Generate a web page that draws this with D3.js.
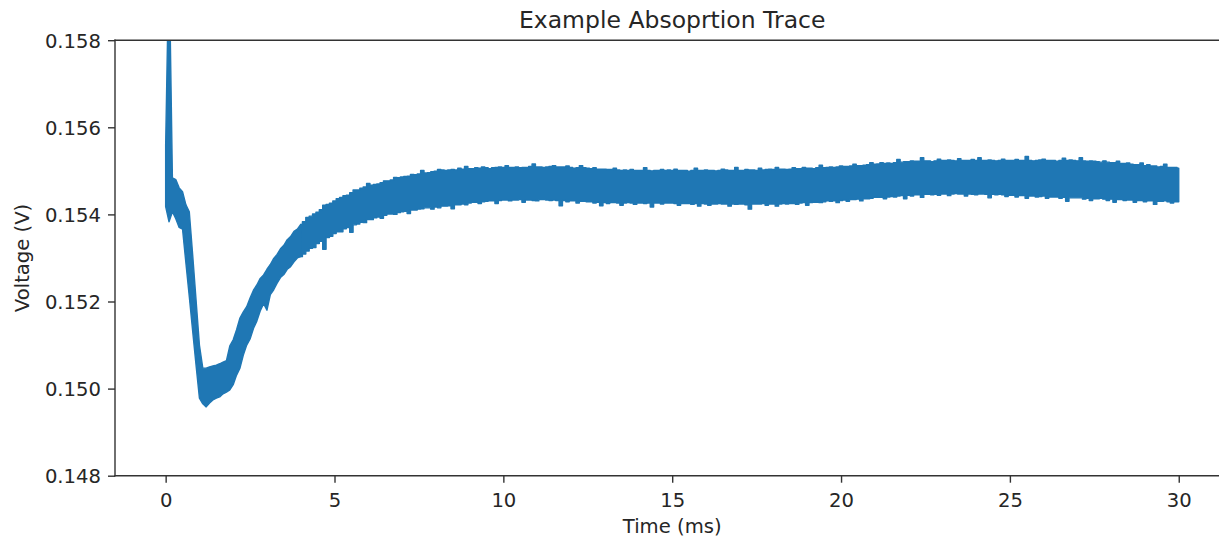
<!DOCTYPE html>
<html>
<head>
<meta charset="utf-8">
<script src="https://cdn.jsdelivr.net/npm/d3@7"></script>
<style>
  body { margin: 0; background: #fff; }
  text { font-family: "DejaVu Sans", sans-serif; fill: #262626; }
</style>
</head>
<body>
<svg id="chart" width="1219" height="539"></svg>
<script>
// Sample times (ms)
const timeMs = [
  0.0,0.1,0.2,0.3,0.4,0.5,0.6,0.7,0.8,0.9,
  1.0,1.1,1.2,1.3,1.4,1.5,1.6,1.7,1.8,1.9,
  2.0,2.1,2.2,2.3,2.4,2.5,2.6,2.7,2.8,2.9,
  3.0,3.1,3.2,3.3,3.4,3.5,3.6,3.7,3.8,3.9,
  4.0,4.1,4.2,4.3,4.4,4.5,4.6,4.7,4.8,4.9,
  5.0,5.1,5.2,5.3,5.4,5.5,5.6,5.7,5.8,5.9,
  6.0,6.1,6.2,6.3,6.4,6.5,6.6,6.7,6.8,6.9,
  7.0,7.1,7.2,7.3,7.4,7.5,7.6,7.7,7.8,7.9,
  8.0,8.1,8.2,8.3,8.4,8.5,8.6,8.7,8.8,8.9,
  9.0,9.1,9.2,9.3,9.4,9.5,9.6,9.7,9.8,9.9,
  10.0,10.1,10.2,10.3,10.4,10.5,10.6,10.7,10.8,10.9,
  11.0,11.1,11.2,11.3,11.4,11.5,11.6,11.7,11.8,11.9,
  12.0,12.1,12.2,12.3,12.4,12.5,12.6,12.7,12.8,12.9,
  13.0,13.1,13.2,13.3,13.4,13.5,13.6,13.7,13.8,13.9,
  14.0,14.1,14.2,14.3,14.4,14.5,14.6,14.7,14.8,14.9,
  15.0,15.1,15.2,15.3,15.4,15.5,15.6,15.7,15.8,15.9,
  16.0,16.1,16.2,16.3,16.4,16.5,16.6,16.7,16.8,16.9,
  17.0,17.1,17.2,17.3,17.4,17.5,17.6,17.7,17.8,17.9,
  18.0,18.1,18.2,18.3,18.4,18.5,18.6,18.7,18.8,18.9,
  19.0,19.1,19.2,19.3,19.4,19.5,19.6,19.7,19.8,19.9,
  20.0,20.1,20.2,20.3,20.4,20.5,20.6,20.7,20.8,20.9,
  21.0,21.1,21.2,21.3,21.4,21.5,21.6,21.7,21.8,21.9,
  22.0,22.1,22.2,22.3,22.4,22.5,22.6,22.7,22.8,22.9,
  23.0,23.1,23.2,23.3,23.4,23.5,23.6,23.7,23.8,23.9,
  24.0,24.1,24.2,24.3,24.4,24.5,24.6,24.7,24.8,24.9,
  25.0,25.1,25.2,25.3,25.4,25.5,25.6,25.7,25.8,25.9,
  26.0,26.1,26.2,26.3,26.4,26.5,26.6,26.7,26.8,26.9,
  27.0,27.1,27.2,27.3,27.4,27.5,27.6,27.7,27.8,27.9,
  28.0,28.1,28.2,28.3,28.4,28.5,28.6,28.7,28.8,28.9,
  29.0,29.1,29.2,29.3,29.4,29.5,29.6,29.7,29.8,29.9,
  30.0
];

// Upper edge of the noisy trace in each sample window (V)
const upperV = [
  0.15560,0.16000,0.15484,0.15480,0.15461,0.15452,0.15422,0.15406,0.15307,0.15204,
  0.15100,0.15047,0.15047,0.15050,0.15052,0.15054,0.15057,0.15061,0.15064,0.15098,
  0.15112,0.15135,0.15162,0.15176,0.15188,0.15208,0.15226,0.15238,0.15253,0.15261,
  0.15274,0.15285,0.15299,0.15308,0.15321,0.15329,0.15342,0.15349,0.15361,0.15366,
  0.15377,0.15383,0.15393,0.15396,0.15401,0.15405,0.15411,0.15421,0.15423,0.15426,
  0.15431,0.15436,0.15439,0.15443,0.15444,0.15450,0.15456,0.15456,0.15460,0.15463,
  0.15471,0.15467,0.15469,0.15470,0.15473,0.15477,0.15477,0.15479,0.15485,0.15484,
  0.15486,0.15487,0.15488,0.15492,0.15491,0.15493,0.15501,0.15495,0.15496,0.15498,
  0.15499,0.15503,0.15502,0.15501,0.15502,0.15503,0.15502,0.15506,0.15504,0.15510,
  0.15505,0.15505,0.15507,0.15506,0.15509,0.15507,0.15505,0.15507,0.15508,0.15509,
  0.15508,0.15512,0.15508,0.15508,0.15509,0.15507,0.15508,0.15508,0.15510,0.15516,
  0.15509,0.15509,0.15508,0.15509,0.15510,0.15512,0.15509,0.15509,0.15509,0.15511,
  0.15508,0.15506,0.15507,0.15512,0.15507,0.15506,0.15505,0.15507,0.15504,0.15504,
  0.15504,0.15503,0.15503,0.15506,0.15502,0.15501,0.15502,0.15501,0.15503,0.15501,
  0.15501,0.15501,0.15507,0.15501,0.15500,0.15501,0.15501,0.15503,0.15501,0.15502,
  0.15501,0.15504,0.15501,0.15501,0.15501,0.15499,0.15501,0.15506,0.15501,0.15501,
  0.15502,0.15501,0.15501,0.15500,0.15501,0.15504,0.15502,0.15501,0.15501,0.15508,
  0.15501,0.15501,0.15503,0.15502,0.15502,0.15501,0.15506,0.15502,0.15503,0.15504,
  0.15503,0.15508,0.15504,0.15504,0.15503,0.15504,0.15507,0.15505,0.15505,0.15508,
  0.15506,0.15506,0.15505,0.15507,0.15513,0.15507,0.15508,0.15509,0.15508,0.15509,
  0.15511,0.15510,0.15510,0.15511,0.15515,0.15512,0.15512,0.15513,0.15514,0.15519,
  0.15515,0.15516,0.15519,0.15517,0.15518,0.15517,0.15519,0.15526,0.15520,0.15521,
  0.15521,0.15523,0.15522,0.15522,0.15530,0.15523,0.15523,0.15521,0.15523,0.15527,
  0.15524,0.15524,0.15525,0.15524,0.15523,0.15528,0.15524,0.15524,0.15524,0.15526,
  0.15524,0.15530,0.15524,0.15524,0.15525,0.15524,0.15523,0.15524,0.15527,0.15524,
  0.15524,0.15524,0.15526,0.15524,0.15524,0.15533,0.15524,0.15523,0.15524,0.15525,
  0.15527,0.15524,0.15524,0.15524,0.15522,0.15524,0.15529,0.15524,0.15525,0.15524,
  0.15523,0.15530,0.15523,0.15522,0.15523,0.15522,0.15521,0.15520,0.15523,0.15520,
  0.15519,0.15519,0.15522,0.15517,0.15517,0.15518,0.15515,0.15514,0.15514,0.15518,
  0.15512,0.15514,0.15511,0.15511,0.15509,0.15510,0.15515,0.15508,0.15508,0.15508,
  0.15506
];

// Lower edge of the noisy trace in each sample window (V)
const lowerV = [
  0.15418,0.15383,0.15406,0.15390,0.15370,0.15366,0.15288,0.15211,0.15132,0.15054,
  0.14978,0.14965,0.14958,0.14967,0.14974,0.14978,0.14981,0.14988,0.14992,0.14997,
  0.15009,0.15031,0.15047,0.15077,0.15100,0.15114,0.15138,0.15155,0.15178,0.15195,
  0.15180,0.15216,0.15227,0.15242,0.15255,0.15262,0.15274,0.15280,0.15291,0.15300,
  0.15303,0.15309,0.15316,0.15322,0.15324,0.15333,0.15338,0.15320,0.15347,0.15350,
  0.15356,0.15360,0.15360,0.15367,0.15370,0.15359,0.15376,0.15378,0.15382,0.15381,
  0.15388,0.15388,0.15392,0.15394,0.15391,0.15398,0.15401,0.15401,0.15400,0.15404,
  0.15406,0.15407,0.15402,0.15410,0.15410,0.15412,0.15413,0.15415,0.15415,0.15412,
  0.15417,0.15415,0.15419,0.15419,0.15420,0.15413,0.15422,0.15422,0.15424,0.15422,
  0.15426,0.15428,0.15428,0.15425,0.15429,0.15430,0.15431,0.15431,0.15425,0.15432,
  0.15433,0.15433,0.15431,0.15433,0.15433,0.15434,0.15428,0.15433,0.15433,0.15432,
  0.15431,0.15434,0.15434,0.15433,0.15432,0.15433,0.15432,0.15420,0.15432,0.15429,
  0.15431,0.15431,0.15426,0.15430,0.15430,0.15429,0.15429,0.15426,0.15428,0.15420,
  0.15427,0.15425,0.15427,0.15427,0.15426,0.15421,0.15426,0.15427,0.15426,0.15423,
  0.15426,0.15426,0.15425,0.15426,0.15417,0.15426,0.15426,0.15424,0.15426,0.15426,
  0.15426,0.15425,0.15421,0.15425,0.15425,0.15425,0.15423,0.15425,0.15419,0.15425,
  0.15424,0.15421,0.15424,0.15424,0.15425,0.15424,0.15424,0.15419,0.15424,0.15423,
  0.15424,0.15424,0.15422,0.15412,0.15424,0.15424,0.15424,0.15425,0.15421,0.15424,
  0.15424,0.15419,0.15424,0.15425,0.15424,0.15425,0.15425,0.15423,0.15426,0.15427,
  0.15421,0.15427,0.15428,0.15428,0.15427,0.15429,0.15431,0.15430,0.15431,0.15427,
  0.15432,0.15433,0.15430,0.15434,0.15434,0.15435,0.15431,0.15436,0.15436,0.15437,
  0.15439,0.15439,0.15439,0.15436,0.15440,0.15441,0.15440,0.15442,0.15443,0.15436,
  0.15444,0.15442,0.15445,0.15445,0.15439,0.15446,0.15446,0.15445,0.15446,0.15444,
  0.15447,0.15447,0.15443,0.15447,0.15448,0.15447,0.15447,0.15442,0.15447,0.15446,
  0.15445,0.15447,0.15447,0.15446,0.15438,0.15446,0.15445,0.15446,0.15445,0.15441,
  0.15444,0.15444,0.15440,0.15443,0.15443,0.15437,0.15442,0.15442,0.15440,0.15441,
  0.15442,0.15437,0.15440,0.15440,0.15440,0.15437,0.15439,0.15430,0.15438,0.15438,
  0.15438,0.15438,0.15435,0.15437,0.15432,0.15436,0.15436,0.15437,0.15435,0.15432,
  0.15435,0.15428,0.15434,0.15434,0.15432,0.15433,0.15433,0.15428,0.15432,0.15432,
  0.15429,0.15431,0.15431,0.15423,0.15430,0.15430,0.15431,0.15429,0.15426,0.15429,
  0.15429
];

const xTicks = [0, 5, 10, 15, 20, 25, 30];
const yTicks = [0.148, 0.150, 0.152, 0.154, 0.156, 0.158];
const titleText = "Example Absoprtion Trace";
const xLabelText = "Time (ms)";
const yLabelText = "Voltage (V)";

const svg = d3.select("#chart");
const plot = { left: 115, right: 1229.4, top: 40.2, bottom: 475.7 };
const tickFont = 19.6;
const lineColor = "#1f77b4";
const axisColor = "#333333";

const x = d3.scaleLinear().domain([-1.5, 31.5]).range([plot.left, plot.right]);
const y = d3.scaleLinear().domain([0.148, 0.158]).range([plot.bottom, plot.top]);

svg.append("rect").attr("width", 1219).attr("height", 539).attr("fill", "#fff");

svg.append("clipPath").attr("id", "plot-clip")
  .append("rect")
  .attr("x", plot.left).attr("y", plot.top)
  .attr("width", plot.right - plot.left).attr("height", plot.bottom - plot.top);

// Noisy trace drawn as the band between its lower and upper envelopes:
// the fast transient (spike, dip, early recovery) joins samples directly,
// the slow noisy plateau holds each sample across its window.
const idx = d3.range(timeMs.length);
const splitAt = 40;
const transientIdx = idx.slice(0, splitAt + 1);
const plateauIdx = idx.slice(splitAt);

const bandLinear = d3.area()
  .x(i => x(timeMs[i]))
  .y0(i => y(lowerV[i]))
  .y1(i => y(upperV[i]));
const bandStep = d3.area()
  .curve(d3.curveStep)
  .x(i => x(timeMs[i]))
  .y0(i => y(lowerV[i]))
  .y1(i => y(upperV[i]));

const traceG = svg.append("g").attr("clip-path", "url(#plot-clip)");
[[transientIdx, bandLinear], [plateauIdx, bandStep]].forEach(([ids, gen]) => {
  traceG.append("path")
    .attr("d", gen(ids))
    .attr("fill", lineColor)
    .attr("stroke", lineColor)
    .attr("stroke-width", 1.4)
    .attr("stroke-linejoin", "round");
});

// Axes
const xAxis = d3.axisBottom(x).tickValues(xTicks).tickSize(7).tickPadding(10.4)
  .tickFormat(d3.format("d"));
const yAxis = d3.axisLeft(y).tickValues(yTicks).tickSize(7).tickPadding(7)
  .tickFormat(d3.format(".3f"));

const gx = svg.append("g").attr("transform", `translate(0,${plot.bottom})`).call(xAxis);
const gy = svg.append("g").attr("transform", `translate(${plot.left},0)`).call(yAxis);

[gx, gy].forEach(g => {
  g.select(".domain").remove();
  g.selectAll(".tick line").attr("stroke", axisColor).attr("stroke-width", 1.4);
  g.selectAll(".tick text")
    .attr("font-family", "DejaVu Sans, sans-serif")
    .attr("font-size", tickFont)
    .attr("fill", "#262626");
});
gy.selectAll(".tick text").attr("dy", "0.36em");

// Spines
const spines = svg.append("g").attr("stroke", axisColor).attr("stroke-width", 1.4)
  .attr("stroke-linecap", "square");
spines.append("line").attr("x1", plot.left).attr("x2", plot.left).attr("y1", plot.top).attr("y2", plot.bottom);
spines.append("line").attr("x1", plot.right).attr("x2", plot.right).attr("y1", plot.top).attr("y2", plot.bottom);
spines.append("line").attr("x1", plot.left).attr("x2", plot.right).attr("y1", plot.top).attr("y2", plot.top);
spines.append("line").attr("x1", plot.left).attr("x2", plot.right).attr("y1", plot.bottom).attr("y2", plot.bottom);

// Labels and title
const midX = (plot.left + plot.right) / 2;
svg.append("text").attr("x", midX).attr("y", 28)
  .attr("text-anchor", "middle").attr("font-size", 23.5).text(titleText);
svg.append("text").attr("x", midX).attr("y", 533)
  .attr("text-anchor", "middle").attr("font-size", tickFont).text(xLabelText);
svg.append("text")
  .attr("transform", `translate(29,${(plot.top + plot.bottom) / 2}) rotate(-90)`)
  .attr("text-anchor", "middle").attr("font-size", tickFont).text(yLabelText);
</script>
</body>
</html>
